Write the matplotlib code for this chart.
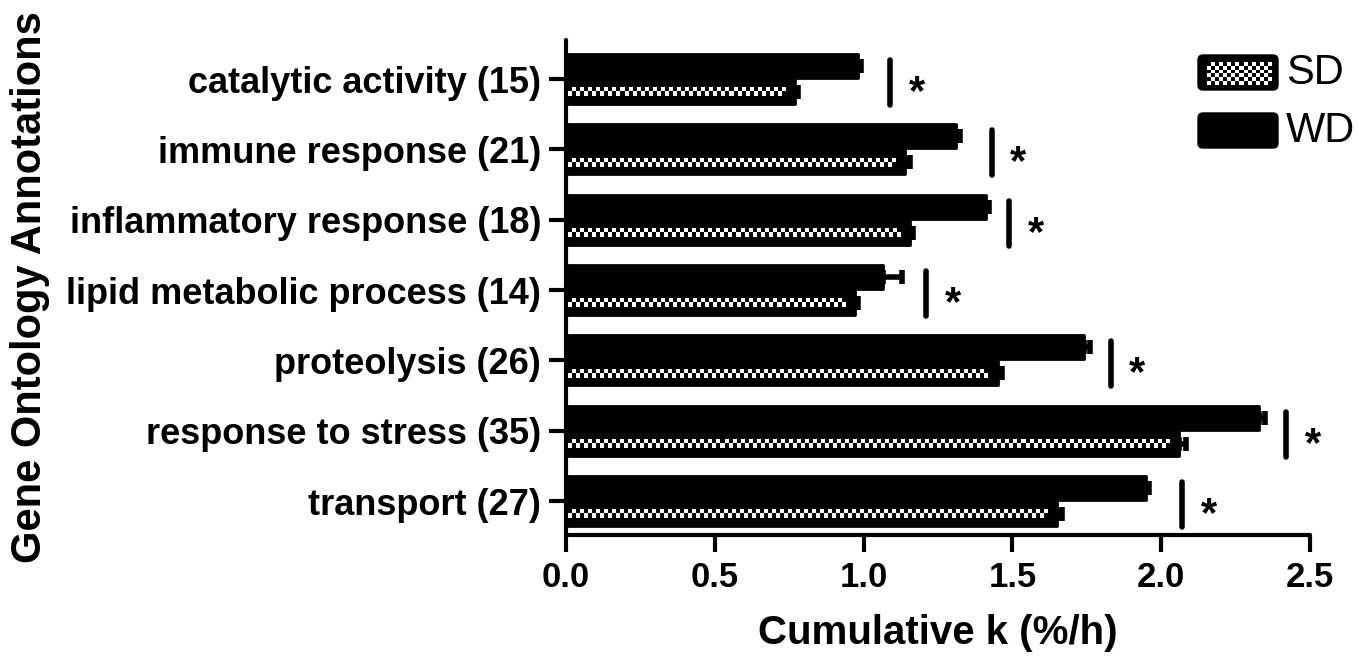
import numpy as np
import matplotlib
matplotlib.use('Agg')
import matplotlib.pyplot as plt
from matplotlib.patches import FancyBboxPatch

plt.rcParams['font.family'] = ['Liberation Sans', 'DejaVu Sans']

#==============================================================================
# Data
#==============================================================================
categories = ['catalytic activity (15)', 'immune response (21)',
              'inflammatory response (18)', 'lipid metabolic process (14)',
              'proteolysis (26)', 'response to stress (35)', 'transport (27)']
wd = [0.98, 1.31, 1.41, 1.065, 1.74, 2.33, 1.95]
wd_err = [0.01, 0.015, 0.01, 0.065, 0.02, 0.02, 0.01]
sd = [0.77, 1.14, 1.155, 0.97, 1.45, 2.06, 1.65]
sd_err = [0.01, 0.015, 0.01, 0.01, 0.015, 0.025, 0.015]
sig_x = [1.09, 1.43, 1.49, 1.21, 1.83, 2.42, 2.07]
xticks = [0.0, 0.5, 1.0, 1.5, 2.0, 2.5]

#==============================================================================
# Figure
#==============================================================================
fig = plt.figure(figsize=(13.58, 6.56), dpi=100)
ax = fig.add_axes([566/1358, 1 - 535/656, 744/1358, 495/656])

y = np.arange(len(categories))
h = 0.34
off = 0.185
y_wd = y - off
y_sd = y + off

ax.barh(y_wd, wd, height=h, color='black', edgecolor='black',
        linewidth=2, joinstyle='round', zorder=2)
ax.barh(y_sd, sd, height=h, color='black', edgecolor='black',
        linewidth=2, joinstyle='round', zorder=2)
ax.errorbar(wd, y_wd, xerr=[np.zeros(len(wd)), wd_err], fmt='none',
            ecolor='black', elinewidth=4, capsize=5, capthick=4, zorder=1)
ax.errorbar(sd, y_sd, xerr=[np.zeros(len(sd)), sd_err], fmt='none',
            ecolor='black', elinewidth=4, capsize=5, capthick=4, zorder=1)

# checkered stripe inside the SD bars
px_per_unit = 744 / 2.5
for i in range(len(sd)):
    right = sd[i] - 0.033
    ncol = max(2, int(round((right - 0.006) * px_per_unit / 4)))
    checker = np.indices((2, ncol)).sum(axis=0) % 2
    ax.imshow(checker, extent=[0.006, right, y_sd[i] + 0.06, y_sd[i] - 0.06],
              cmap='gray', vmin=0, vmax=1, interpolation='nearest',
              aspect='auto', zorder=3)

# significance markers
for i in range(len(sig_x)):
    ax.plot([sig_x[i], sig_x[i]], [y[i] - 0.27, y[i] + 0.37], color='black',
            lw=4, solid_capstyle='round', zorder=4)
    ax.text(sig_x[i] + 0.09, y[i] + 0.2, '*', fontsize=30, fontweight='bold',
            ha='center', va='center', zorder=4)

ax.set_xlim(0, 2.5)
ax.set_ylim(6.483, -0.555)
ax.set_xticks(xticks)
ax.set_xticklabels(['%.1f' % t for t in xticks])
ax.set_yticks(y)
ax.set_yticklabels(categories)

for s in ['top', 'right']:
    ax.spines[s].set_visible(False)
for s in ['left', 'bottom']:
    ax.spines[s].set_linewidth(3)
    ax.spines[s].set_capstyle('round')
ax.tick_params(axis='both', width=3, length=12, direction='out')
ax.tick_params(axis='y', pad=6)
ax.tick_params(axis='x', pad=7)
for lbl in ax.get_xticklabels():
    lbl.set_fontsize(25)
    lbl.set_fontweight('bold')
for lbl in ax.get_yticklabels():
    lbl.set_fontsize(26)
    lbl.set_fontweight('bold')

ax.set_xlabel('Cumulative k (%/h)', fontsize=29, fontweight='bold',
              labelpad=14)
ax.set_ylabel('Gene Ontology Annotations', fontsize=30, fontweight='bold')
ax.yaxis.set_label_coords((50 - 566) / 744, 0.5)

#==============================================================================
# Legend (drawn by hand to get the checkered swatch)
#==============================================================================
leg = fig.add_axes([1190/1358, 1 - 160/656, 168/1358, 115/656])
leg.set_xlim(0, 168)
leg.set_ylim(115, 0)
leg.axis('off')
leg.add_patch(FancyBboxPatch((11, 13), 74, 29,
                             boxstyle='round,pad=3,rounding_size=5',
                             facecolor='black', edgecolor='black', zorder=1))
leg.add_patch(FancyBboxPatch((11, 71), 74, 29,
                             boxstyle='round,pad=3,rounding_size=5',
                             facecolor='black', edgecolor='black', zorder=1))
swatch = np.indices((6, 16)).sum(axis=0) % 2
leg.imshow(swatch, extent=[17, 82, 40, 17], cmap='gray', vmin=0, vmax=1,
           interpolation='nearest', aspect='auto', zorder=2)
leg.set_xlim(0, 168)
leg.set_ylim(115, 0)
leg.text(96, 28, 'SD', fontsize=30, va='center', ha='left')
leg.text(96, 86, 'WD', fontsize=30, va='center', ha='left')

fig.savefig('out.png', dpi=100)
